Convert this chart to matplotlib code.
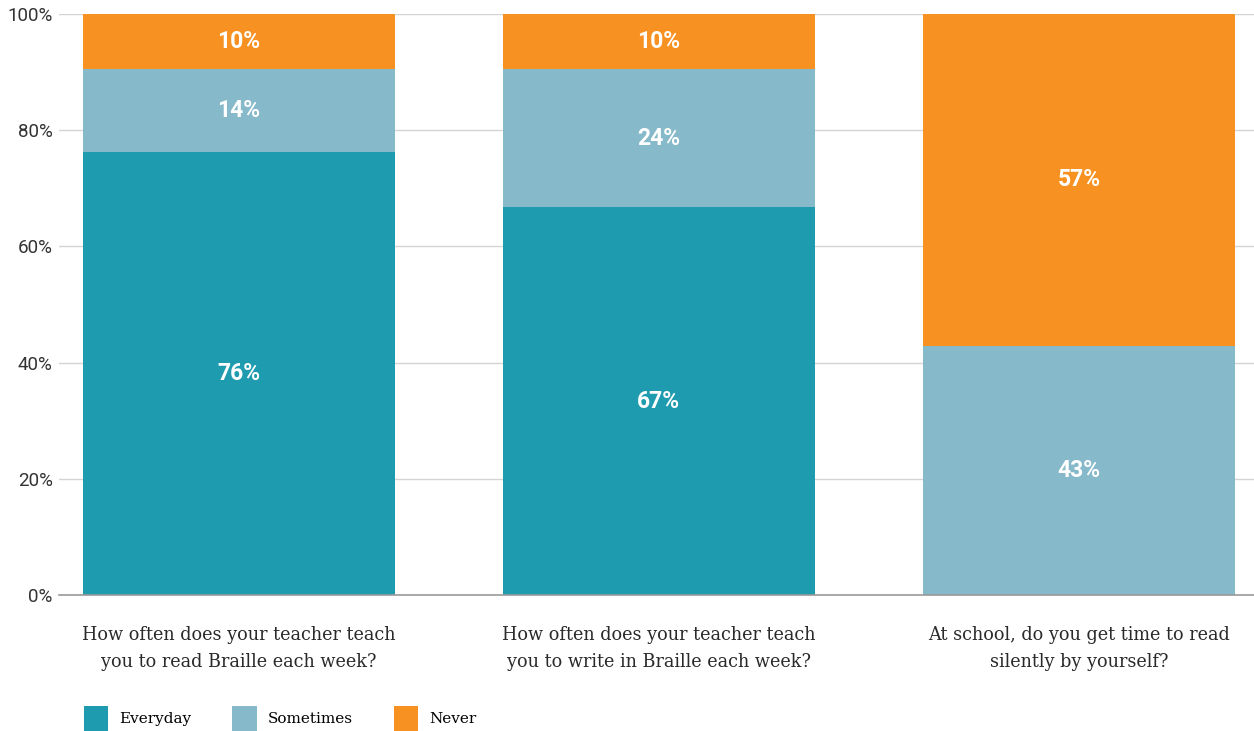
import matplotlib
matplotlib.use("Agg")
import matplotlib.pyplot as plt
from matplotlib.patches import Patch
import numpy as np

categories = [
    "How often does your teacher teach\nyou to read Braille each week?",
    "How often does your teacher teach\nyou to write in Braille each week?",
    "At school, do you get time to read\nsilently by yourself?",
]
series_names = ["Everyday", "Sometimes", "Never"]
everyday = [76.2, 66.7, 0.0]
sometimes = [14.3, 23.8, 42.9]
never = [9.5, 9.5, 57.1]
colors = ["#1f9bb0", "#86b9c9", "#f79222"]
yticks = [0, 20, 40, 60, 80, 100]

fig = plt.figure(figsize=(12.54, 7.31), dpi=100)
ax = fig.add_axes([59/1254, 1-595/731, 1-59/1254, (595-14)/731])

x = np.arange(len(categories))
width = 0.743
bottom = np.zeros(len(categories))
for name, vals, col in zip(series_names, [everyday, sometimes, never], colors):
    vals = np.array(vals)
    ax.bar(x, vals, width, bottom=bottom, color=col, label=name, zorder=2)
    for xi, b, v in zip(x, bottom, vals):
        if v > 0:
            ax.text(xi, b + v/2, f"{v:.0f}%", ha="center", va="center",
                    color="white", fontsize=16.5, fontweight="bold",
                    family=["Roboto", "DejaVu Sans"], zorder=3)
    bottom += vals

ax.set_xlim(-0.4286, 2.417)
ax.set_ylim(0, 100)
ax.set_yticks(yticks)
ax.set_yticklabels([f"{t}%" for t in yticks], family=["Roboto", "DejaVu Sans"],
                   fontsize=13.5, color="#333333")
ax.set_xticks(x)
ax.set_xticklabels(categories, family=["DejaVu Serif"], fontsize=12.7,
                   color="#2a2a2a", linespacing=1.65)
ax.tick_params(axis="x", length=0, pad=22)
ax.tick_params(axis="y", length=0, pad=4.5)
ax.grid(axis="y", color="#d4d4d4", linewidth=1, zorder=0)
for s in ["top", "right", "left"]:
    ax.spines[s].set_visible(False)
ax.spines["bottom"].set_color("#999999")
ax.spines["bottom"].set_linewidth(1.2)
ax.spines["bottom"].set_zorder(4)

handles = [Patch(facecolor=c, label=n) for n, c in zip(series_names, colors)]
fig.legend(handles=handles, loc="lower left", bbox_to_anchor=(70/1254, -14/731),
           ncol=3, frameon=False, prop={"family": "DejaVu Serif", "size": 11},
           handlelength=1.6, handleheight=2.2, handletextpad=0.7,
           columnspacing=2.7)

fig.savefig("out.png", dpi=100)
